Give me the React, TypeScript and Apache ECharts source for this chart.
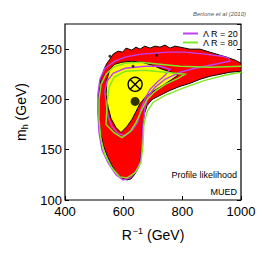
import React, { useEffect, useRef } from "react";
import * as echarts from "echarts";

const xTicks = [400, 600, 800, 1000];
const yTicks = [100, 150, 200, 250];

// profile likelihood regions (R^-1 [GeV], m_h [GeV])
const redRegion: number[][] = [
  [553, 240], [564, 245], [581, 248], [597, 247], [608, 251], [628, 249], [642, 252], [656, 250],
  [672, 253], [690, 251], [707, 253], [724, 252], [741, 254], [758, 251], [775, 253], [792, 252],
  [809, 251], [826, 250], [860, 250], [894, 247], [928, 244], [952, 242], [980, 239], [1000, 236],
  [1000, 228], [962, 227], [928, 225], [894, 223], [860, 220], [826, 216], [792, 213], [758, 209],
  [724, 204], [697, 200], [680, 194], [670, 185], [664, 172], [662, 158], [659, 145], [652, 133],
  [639, 126], [625, 121], [612, 120], [595, 121], [578, 126], [560, 134], [545, 143], [532, 153],
  [521, 167], [514, 185], [515, 205], [522, 220], [533, 230], [543, 236],
];
const yellowRegion: number[][] = [
  [543, 220], [553, 230], [570, 235], [594, 237], [628, 238], [662, 237], [697, 234], [731, 230],
  [765, 227], [785, 224], [765, 220], [734, 214], [700, 208], [676, 203], [656, 196], [642, 188],
  [628, 180], [611, 173], [591, 167], [574, 172], [557, 181], [547, 192], [540, 205],
];
const lambda20Outer: number[][] = [
  [536, 231], [570, 238], [605, 242], [622, 243], [660, 245], [707, 246], [750, 247], [809, 247],
  [877, 245], [935, 243], [959, 241], [962, 238], [911, 235], [843, 231], [792, 227], [741, 220],
  [707, 212], [683, 203], [673, 192], [666, 175], [662, 155], [659, 140], [645, 130], [622, 122],
  [598, 120], [574, 125], [547, 137], [526, 150], [516, 167], [512, 187], [512, 205], [519, 220],
];
const lambda20Inner: number[][] = [
  [536, 208], [543, 218], [564, 226], [605, 231], [673, 233], [724, 233], [758, 230], [741, 224],
  [714, 217], [690, 210], [673, 201], [659, 190], [649, 178], [632, 170], [605, 164], [581, 166],
  [560, 173], [547, 183], [540, 195],
];
const lambda80Outer: number[][] = [
  [1000, 233], [894, 232], [792, 233], [724, 235], [656, 237], [605, 236], [564, 232], [540, 225],
  [523, 215], [516, 200], [516, 180], [523, 160], [536, 145], [560, 132], [587, 123], [611, 122],
  [639, 127], [659, 137], [666, 155], [669, 175], [680, 188], [700, 197], [741, 204], [809, 212],
  [877, 219], [945, 224], [1000, 227],
];
const lambda80Inner: number[][] = [
  [540, 175], [543, 195], [550, 212], [567, 222], [605, 228], [673, 229], [741, 227], [809, 225],
  [785, 221], [741, 215], [707, 208], [680, 200], [659, 188], [642, 177], [622, 168], [594, 162],
  [567, 167],
];
const bestFit: number[][] = [[639, 215]];
const posteriorMean: number[][] = [[639, 198]];
const specks: number[][] = [[553, 243], [712, 244], [632, 233]];

const MAGENTA = "#c040f0";
const GREEN = "#80e820";
const FONT = "Liberation Sans, Arial, sans-serif";

function shapeSeries(name: string, loops: { pts: number[][]; closed: boolean }[], style: any, color: string) {
  return {
    type: "custom",
    name,
    coordinateSystem: "cartesian2d",
    data: [[700, 200]],
    silent: true,
    clip: true,
    itemStyle: { color },
    renderItem: (_p: any, api: any) => ({
      type: "group",
      children: loops.map((l) => ({
        type: l.closed ? "polygon" : "polyline",
        shape: { points: l.pts.map((p) => api.coord(p)) },
        style: { ...style, fill: l.closed ? style.fill : undefined },
      })),
    }),
  };
}

export default function App() {
  const ref = useRef<HTMLDivElement>(null);
  useEffect(() => {
    if (!ref.current) return;
    const chart = echarts.init(ref.current, undefined, { renderer: "svg" });
    const axisCommon = {
      type: "value",
      splitLine: { show: false },
      axisLine: { show: false },
      axisTick: { show: true, inside: true, length: 4, lineStyle: { color: "#000", width: 1 } },
    };
    chart.setOption({
      animation: false,
      textStyle: { fontFamily: FONT },
      title: {
        text: "Bertone et al (2010)",
        right: 20,
        top: 11,
        padding: 0,
        textStyle: { fontSize: 6, fontStyle: "italic", fontWeight: "normal", color: "#555", fontFamily: FONT },
      },
      legend: {
        orient: "vertical",
        left: 183,
        top: 29,
        padding: 0,
        itemGap: 0,
        itemWidth: 15,
        itemHeight: 2,
        textStyle: { fontSize: 9, lineHeight: 9, color: "#000", fontFamily: FONT },
        data: [
          { name: "Λ R = 20", icon: "rect" },
          { name: "Λ R = 80", icon: "rect" },
        ],
      },
      grid: { left: 65, right: 25, top: 24, bottom: 66, show: true, borderColor: "#000", borderWidth: 1.2 },
      xAxis: {
        ...axisCommon,
        min: xTicks[0],
        max: xTicks[xTicks.length - 1],
        interval: xTicks[1] - xTicks[0],
        axisLabel: { fontSize: 13, color: "#000", margin: 5, fontFamily: FONT, formatter: (v: number) => String(v) },
        name: "{a|R}{s|−1}{a| (GeV)}",
        nameLocation: "middle",
        nameGap: 26,
        nameTextStyle: {
          rich: {
            a: { fontSize: 14, color: "#000", fontFamily: FONT },
            s: { fontSize: 9, color: "#000", fontFamily: FONT, padding: [0, 0, 8, 1] },
          },
        },
      },
      yAxis: [
        {
          ...axisCommon,
          min: yTicks[0],
          max: 275,
          interval: yTicks[1] - yTicks[0],
          axisLabel: { fontSize: 13, color: "#000", margin: 3, showMaxLabel: false, fontFamily: FONT, formatter: (v: number) => String(v) },
          name: "{a|m}{s|h}{a| (GeV)}",
          nameLocation: "middle",
          nameGap: 30,
          nameTextStyle: {
            rich: {
              a: { fontSize: 14, color: "#000", fontFamily: FONT },
              s: { fontSize: 9, color: "#000", fontFamily: FONT, padding: [7, 0, 0, 0] },
            },
          },
        },
        {
          ...axisCommon,
          position: "right",
          min: yTicks[0],
          max: 275,
          interval: yTicks[1] - yTicks[0],
          axisLabel: { show: false },
        },
      ],
      graphic: [
        {
          type: "text",
          right: 29,
          top: 170,
          style: { text: "Profile likelihood", fontSize: 9, fill: "#000", fontFamily: FONT },
        },
        {
          type: "text",
          right: 29,
          top: 187,
          style: { text: "MUED", fontSize: 9, fill: "#000", fontFamily: FONT },
        },
      ],
      series: [
        shapeSeries("red", [{ pts: redRegion, closed: true }], { fill: "#ff0000", stroke: "#000", lineWidth: 1 }, "#ff0000"),
        shapeSeries("yellow", [{ pts: yellowRegion, closed: true }], { fill: "#ffff00", stroke: "#000", lineWidth: 1 }, "#ffff00"),
        shapeSeries(
          "Λ R = 20",
          [{ pts: lambda20Outer, closed: true }, { pts: lambda20Inner, closed: true }],
          { fill: "none", stroke: MAGENTA, lineWidth: 1.4 },
          MAGENTA
        ),
        shapeSeries(
          "Λ R = 80",
          [{ pts: lambda80Outer, closed: false }, { pts: lambda80Inner, closed: true }],
          { fill: "none", stroke: GREEN, lineWidth: 1.4 },
          GREEN
        ),
        {
          type: "scatter",
          name: "specks",
          data: specks,
          symbolSize: 3,
          itemStyle: { color: "#000" },
          silent: true,
        },
        {
          type: "scatter",
          name: "mean",
          data: posteriorMean,
          symbolSize: 9,
          itemStyle: { color: "#000" },
          silent: true,
        },
        {
          type: "custom",
          name: "bestfit",
          coordinateSystem: "cartesian2d",
          data: bestFit,
          silent: true,
          renderItem: (_p: any, api: any) => {
            const c = api.coord([api.value(0), api.value(1)]);
            const r = 7;
            const d = r * 0.7071;
            return {
              type: "group",
              children: [
                { type: "circle", shape: { cx: c[0], cy: c[1], r }, style: { fill: "none", stroke: "#000", lineWidth: 1.4 } },
                { type: "line", shape: { x1: c[0] - d, y1: c[1] - d, x2: c[0] + d, y2: c[1] + d }, style: { stroke: "#000", lineWidth: 1.4 } },
                { type: "line", shape: { x1: c[0] - d, y1: c[1] + d, x2: c[0] + d, y2: c[1] - d }, style: { stroke: "#000", lineWidth: 1.4 } },
              ],
            };
          },
        },
      ],
    });
    return () => chart.dispose();
  }, []);
  return <div ref={ref} style={{ position: "absolute", left: 0, top: 0, width: 266, height: 266 }} />;
}
